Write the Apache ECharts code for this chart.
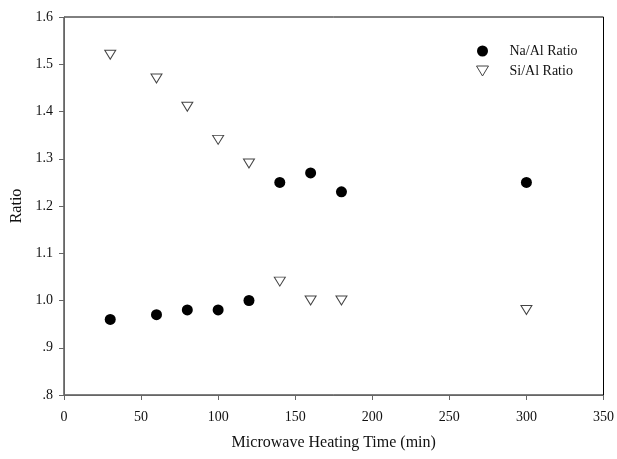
<!DOCTYPE html>
<html>
<head>
<meta charset="utf-8">
<script src="https://cdn.jsdelivr.net/npm/echarts@6/dist/echarts.min.js"></script>
<style>
  html, body { margin: 0; padding: 0; background: #fff; }
  #chart { width: 617px; height: 459px; }
</style>
</head>
<body>
<div id="chart"></div>
<script>
// Heating times (min) and measured ratios
const heatingTime = [30, 60, 80, 100, 120, 140, 160, 180, 300];
const naAlRatio = [0.96, 0.97, 0.98, 0.98, 1.00, 1.25, 1.27, 1.23, 1.25];
const siAlRatio = [1.52, 1.47, 1.41, 1.34, 1.29, 1.04, 1.00, 1.00, 0.98];
const yTickLabels = { '0.8': '.8', '0.9': '.9', '1': '1.0', '1.1': '1.1', '1.2': '1.2', '1.3': '1.3', '1.4': '1.4', '1.5': '1.5', '1.6': '1.6' };

const FONT = '"Liberation Serif", "Times New Roman", serif';
const pairs = (xs, ys) => xs.map((x, i) => [x, ys[i]]);
const downTriangle = 'path://M0,0 L12,0 L6,10 Z';

const chart = echarts.init(document.getElementById('chart'), null, { renderer: 'canvas' });
chart.setOption({
  animation: false,
  backgroundColor: '#fff',
  textStyle: { fontFamily: FONT },
  grid: { left: 64, right: 13, top: 17, bottom: 64, show: true, borderColor: '#000', borderWidth: 1, containLabel: false },
  legend: {
    left: 471, top: 39, orient: 'vertical', itemGap: 6, itemWidth: 12, itemHeight: 11,
    textStyle: { fontFamily: FONT, fontSize: 14, color: '#111', padding: [0, 0, 0, 16] },
    data: [
      { name: 'Na/Al Ratio', icon: 'circle', itemStyle: { opacity: 1 } },
      { name: 'Si/Al Ratio', icon: downTriangle, itemStyle: { opacity: 1, borderWidth: 1 } }
    ]
  },
  xAxis: {
    type: 'value', min: 0, max: 350, interval: 50,
    name: 'Microwave Heating Time (min)', nameLocation: 'middle', nameGap: 40,
    nameTextStyle: { fontFamily: FONT, fontSize: 16, color: '#111' },
    axisLine: { show: true, onZero: false, lineStyle: { color: '#666', width: 1 } },
    axisTick: { show: true, inside: false, length: 5, lineStyle: { color: '#666' } },
    axisLabel: { fontFamily: FONT, fontSize: 14, color: '#111', margin: 15 },
    splitLine: { show: false }
  },
  yAxis: {
    type: 'value', min: 0.8, max: 1.6, interval: 0.1,
    name: 'Ratio', nameLocation: 'middle', nameGap: 38, nameRotate: 90,
    nameTextStyle: { fontFamily: FONT, fontSize: 16, color: '#111' },
    axisLine: { show: true, lineStyle: { color: '#666', width: 1 } },
    axisTick: { show: true, inside: false, length: 5, lineStyle: { color: '#666' } },
    axisLabel: {
      fontFamily: FONT, fontSize: 14, color: '#111', margin: 11,
      formatter: v => yTickLabels[String(Math.round(v * 10) / 10)] || ''
    },
    splitLine: { show: false }
  },
  series: [
    {
      name: 'Na/Al Ratio', type: 'scatter', symbol: 'circle', symbolSize: 11,
      itemStyle: { color: '#000', opacity: 1 },
      data: pairs(heatingTime, naAlRatio)
    },
    {
      name: 'Si/Al Ratio', type: 'scatter', symbol: downTriangle, symbolSize: [11, 9],
      itemStyle: { color: '#fff', borderColor: '#444', borderWidth: 1, opacity: 1 },
      data: pairs(heatingTime, siAlRatio)
    }
  ]
});
</script>
</body>
</html>
